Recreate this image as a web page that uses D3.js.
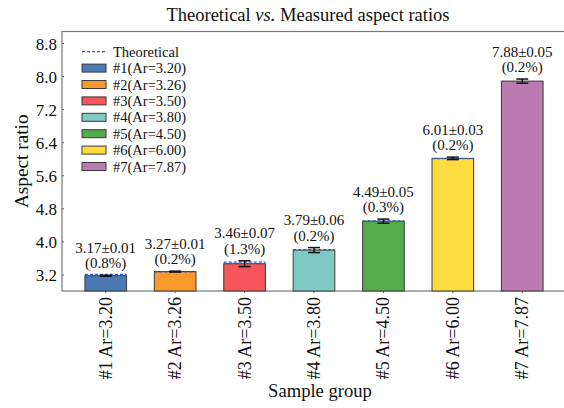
<!DOCTYPE html>
<head>
<meta charset="utf-8">
<style>
    body { margin: 0; background: #fff; }
    text { font-family: "Liberation Serif", "Times New Roman", serif; fill: #111; }
</style>
</head>
<body>
    <script src="https://d3js.org/d3.v7.min.js"></script>
    <script>

    ///////////////////////////
    ////////// DATA //////////
    ///////////////////////////

    const categories = ['#1 Ar=3.20', '#2 Ar=3.26', '#3 Ar=3.50', '#4 Ar=3.80', '#5 Ar=4.50', '#6 Ar=6.00', '#7 Ar=7.87'];
    const legendLabels = ['#1(Ar=3.20)', '#2(Ar=3.26)', '#3(Ar=3.50)', '#4(Ar=3.80)', '#5(Ar=4.50)', '#6(Ar=6.00)', '#7(Ar=7.87)'];
    const theoretical = [3.20, 3.26, 3.50, 3.80, 4.50, 6.00, 7.87];
    const measured = [3.17, 3.27, 3.46, 3.79, 4.49, 6.01, 7.88];
    const errors = [0.01, 0.01, 0.07, 0.06, 0.05, 0.03, 0.05];
    const percents = ['0.8%', '0.2%', '1.3%', '0.2%', '0.3%', '0.2%', '0.2%'];
    const colors = ['#4a7ab4', '#f99a2a', '#f5555b', '#7ecac3', '#55ac4c', '#fddc40', '#bc7bb0'];
    const yTicks = [3.2, 4.0, 4.8, 5.6, 6.4, 7.2, 8.0, 8.8];

    ///////////////////////////
    ////////// SETUP //////////
    ///////////////////////////

    const W = 564, H = 408;
    const plot = { left: 62, right: 566, top: 31.5, bottom: 291 };

    const svg = d3.select('body').append('svg')
        .attr('width', W)
        .attr('height', H);

    const x = d3.scaleBand()
        .domain(categories)
        .range([plot.left, plot.right])
        .paddingInner(0.4)
        .paddingOuter(0.33);

    const y = d3.scaleLinear()
        .domain([2.8, 9.08])
        .range([plot.bottom, plot.top]);

    //////////////////////////
    ////////// AXES //////////
    //////////////////////////

    const yAxis = svg.append('g')
        .attr('transform', 'translate(' + plot.left + ',0)')
        .call(d3.axisLeft(y).tickValues(yTicks).tickFormat(d3.format('.1f')).tickSize(-2).tickPadding(5));
    yAxis.select('.domain').remove();
    yAxis.selectAll('line').attr('stroke', '#555');
    yAxis.selectAll('text').attr('font-size', 17).attr('dy', '0.35em')
        .style('font-family', '"Liberation Serif", serif').attr('fill', '#111');

    const xAxis = svg.append('g')
        .attr('transform', 'translate(0,' + plot.bottom + ')')
        .call(d3.axisBottom(x).tickSize(2).tickPadding(6));
    xAxis.select('.domain').remove();
    xAxis.selectAll('line').attr('stroke', '#555');
    xAxis.selectAll('text')
        .attr('font-size', 18)
        .style('font-family', '"Liberation Serif", serif')
        .attr('fill', '#111')
        .attr('text-anchor', 'end')
        .attr('transform', 'rotate(-90)')
        .attr('x', -6)
        .attr('y', 0)
        .attr('dy', '0.33em');

    // frame
    svg.append('rect')
        .attr('x', plot.left).attr('y', plot.top)
        .attr('width', plot.right - plot.left).attr('height', plot.bottom - plot.top)
        .attr('fill', 'none').attr('stroke', '#777').attr('stroke-width', 1.2);

    //////////////////////////
    ////////// DRAW //////////
    //////////////////////////

    const groups = svg.append('g').selectAll('g')
        .data(categories)
        .join('g');

    groups.append('rect')
        .attr('x', d => x(d))
        .attr('width', x.bandwidth())
        .attr('y', (d, i) => y(measured[i]))
        .attr('height', (d, i) => y.range()[0] - y(measured[i]))
        .attr('fill', (d, i) => colors[i])
        .attr('stroke', '#3a3a3a')
        .attr('stroke-width', 1);

    // theoretical dashed line
    groups.append('line')
        .attr('x1', d => x(d))
        .attr('x2', d => x(d) + x.bandwidth())
        .attr('y1', (d, i) => y(theoretical[i]))
        .attr('y2', (d, i) => y(theoretical[i]))
        .attr('stroke', '#2a5bd0')
        .attr('stroke-width', 1.2)
        .attr('stroke-dasharray', '3,2');

    // error bars
    const cap = 6;
    groups.each(function(d, i) {
        const g = d3.select(this);
        const cx = x(d) + x.bandwidth() / 2;
        const lo = y(measured[i] - errors[i]), hi = y(measured[i] + errors[i]);
        g.append('line').attr('x1', cx).attr('x2', cx).attr('y1', lo).attr('y2', hi)
            .attr('stroke', '#111').attr('stroke-width', 1.5);
        [lo, hi].forEach(v => {
            g.append('line').attr('x1', cx - cap).attr('x2', cx + cap).attr('y1', v).attr('y2', v)
                .attr('stroke', '#111').attr('stroke-width', 1.5);
        });
        const top = hi - 7;
        g.append('text').attr('x', cx).attr('y', top - 15.5)
            .attr('text-anchor', 'middle').attr('font-size', 15)
            .text(measured[i].toFixed(2) + '\u00b1' + errors[i].toFixed(2));
        g.append('text').attr('x', cx).attr('y', top)
            .attr('text-anchor', 'middle').attr('font-size', 15)
            .text('(' + percents[i] + ')');
    });

    ////////////////////////////
    ////////// LEGEND //////////
    ////////////////////////////

    const legend = svg.append('g').attr('transform', 'translate(82,51.7)');
    const rowH = 16.4;
    legend.append('line')
        .attr('x1', 0).attr('x2', 24).attr('y1', 0).attr('y2', 0)
        .attr('stroke', '#2a5bd0').attr('stroke-width', 1.2).attr('stroke-dasharray', '3,2');
    legend.append('text').attr('x', 31).attr('y', 0).attr('dy', '0.35em')
        .attr('font-size', 14.5).text('Theoretical');

    const rows = legend.selectAll('g.row')
        .data(legendLabels)
        .join('g')
        .attr('class', 'row')
        .attr('transform', (d, i) => 'translate(0,' + (i + 1) * rowH + ')');
    rows.append('rect')
        .attr('x', 0).attr('y', -4).attr('width', 24).attr('height', 8)
        .attr('fill', (d, i) => colors[i]).attr('stroke', '#3a3a3a').attr('stroke-width', 1);
    rows.append('text')
        .attr('x', 31).attr('y', 0).attr('dy', '0.35em')
        .attr('font-size', 14.5).text(d => d);

    ////////////////////////////
    ////////// LABELS //////////
    ////////////////////////////

    const title = svg.append('text')
        .attr('x', 308).attr('y', 21)
        .attr('text-anchor', 'middle').attr('font-size', 18.5);
    title.append('tspan').text('Theoretical ');
    title.append('tspan').attr('font-style', 'italic').text('vs.');
    title.append('tspan').text(' Measured aspect ratios');

    svg.append('text')
        .attr('transform', 'translate(28,' + (plot.top + plot.bottom) / 2 + ') rotate(-90)')
        .attr('text-anchor', 'middle').attr('font-size', 19.3)
        .text('Aspect ratio');

    svg.append('text')
        .attr('x', 320).attr('y', 397)
        .attr('text-anchor', 'middle').attr('font-size', 18.6)
        .text('Sample group');

    </script>
</body>
